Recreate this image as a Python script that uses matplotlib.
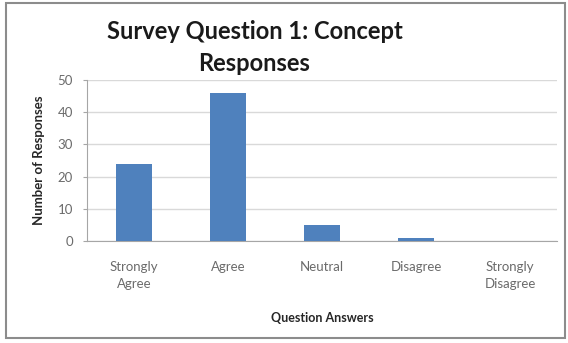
import matplotlib
matplotlib.use("Agg")

import matplotlib.pyplot as plt
from matplotlib.patches import Rectangle


# Chart data
CATEGORIES = ["Strongly\nAgree", "Agree", "Neutral", "Disagree", "Strongly\nDisagree"]
RESPONSES = [24, 46, 5, 1, 0]
Y_TICKS = [0, 10, 20, 30, 40, 50]

BAR_COLOR = "#4f81bd"
GRID_COLOR = "#d9d9d9"
TEXT_COLOR = "#6b6b6b"


def plot_chart(chart_path="out.png"):
    plt.rcParams["font.family"] = ["Lato", "DejaVu Sans"]

    fig = plt.figure(figsize=(5.68, 3.43), dpi=100)
    ax = fig.add_axes([0.153, 0.297, 0.828, 0.470])

    positions = range(len(CATEGORIES))
    ax.bar(positions, RESPONSES, width=0.39, color=BAR_COLOR, zorder=3)

    ax.set_xlim(-0.5, len(CATEGORIES) - 0.5)
    ax.set_ylim(0, 50)
    ax.set_yticks(Y_TICKS)
    ax.set_xticks(list(positions))
    ax.set_xticklabels(CATEGORIES, fontsize=9.5, color=TEXT_COLOR, linespacing=1.5)
    ax.tick_params(axis="y", labelsize=9.5, labelcolor=TEXT_COLOR,
                   length=3, color="#a6a6a6", pad=7)
    ax.tick_params(axis="x", length=0, pad=14)

    ax.grid(axis="y", color=GRID_COLOR, linewidth=1, zorder=0)
    for side in ["top", "right"]:
        ax.spines[side].set_visible(False)
    ax.spines["left"].set_color("#a6a6a6")
    ax.spines["bottom"].set_color("#a6a6a6")

    ax.set_ylabel("Number of Responses", fontsize=9.5, fontweight="bold",
                  color="#262626", labelpad=9)
    ax.set_xlabel("Question Answers", fontsize=9, fontweight="bold",
                  color="#262626", labelpad=16)

    fig.text(0.448, 0.862, "Survey Question 1: Concept\nResponses",
             ha="center", va="center", fontsize=17, fontweight="bold",
             color="#1a1a1a", linespacing=1.5)

    # Outer chart frame
    fig.patches.append(Rectangle((0.01, 0.015), 0.985, 0.975,
                                 transform=fig.transFigure, fill=False,
                                 edgecolor="#8c8c8c", linewidth=1.5))

    fig.savefig(chart_path, dpi=100)
    plt.close(fig)


if __name__ == "__main__":
    plot_chart()
